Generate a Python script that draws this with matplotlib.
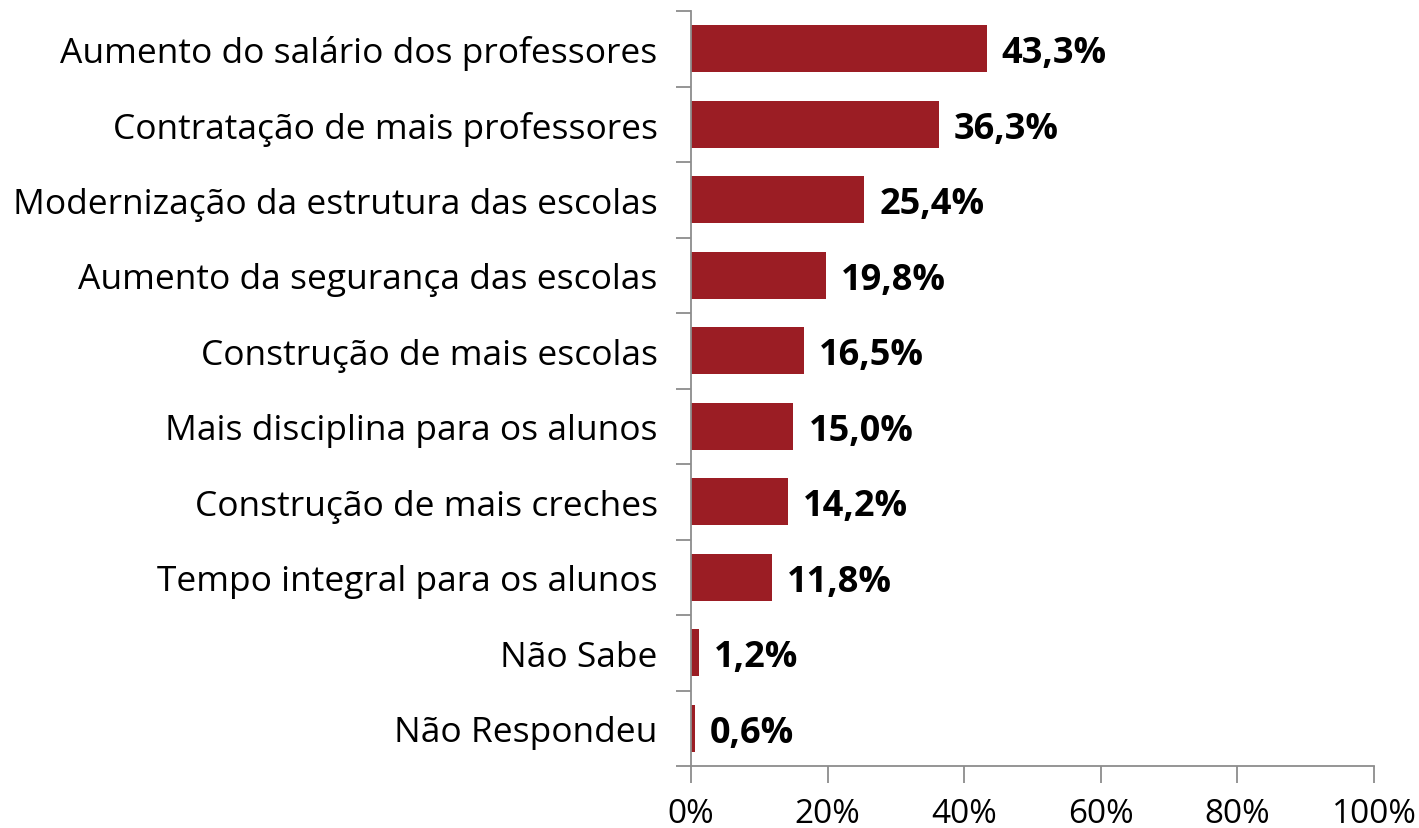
import matplotlib.pyplot as plt
import numpy as np
from matplotlib.ticker import FixedLocator

categorias = ["Aumento do salário dos professores",
              "Contratação de mais professores",
              "Modernização da estrutura das escolas",
              "Aumento da segurança das escolas",
              "Construção de mais escolas",
              "Mais disciplina para os alunos",
              "Construção de mais creches",
              "Tempo integral para os alunos",
              "Não Sabe",
              "Não Respondeu"]
valores = [43.3, 36.3, 25.4, 19.8, 16.5, 15.0, 14.2, 11.8, 1.2, 0.6]
rotulos = ["43,3%", "36,3%", "25,4%", "19,8%", "16,5%",
           "15,0%", "14,2%", "11,8%", "1,2%", "0,6%"]
xticks = [0, 20, 40, 60, 80, 100]

plt.rcParams['font.family'] = ['Open Sans', 'DejaVu Sans']

fig = plt.figure(figsize=(14.19, 8.29), dpi=100)
ax = fig.add_axes([691/1419, 1 - 767/829, (1374-691)/1419, (767-12)/829])

y = np.arange(len(categorias))
ax.barh(y, valores, height=0.62, color="#9b1d24")
for yi, v, r in zip(y, valores, rotulos):
    ax.text(v + 2.2, yi, r, va="center_baseline", ha="left", fontsize=26, fontweight="bold")

ax.set_ylim(len(categorias) - 0.5, -0.5)
ax.set_xlim(0, 100)
ax.set_yticks(y)
ax.set_yticklabels(categorias, fontsize=25.5)
ax.yaxis.set_minor_locator(FixedLocator(np.arange(-0.5, len(categorias), 1)))
ax.tick_params(axis="y", which="major", length=0, pad=24)
ax.tick_params(axis="y", which="minor", length=11, color="#8c8c8c", width=1.3)

ax.set_xticks(xticks)
ax.set_xticklabels([f"{t}%" for t in xticks], fontsize=24)
ax.tick_params(axis="x", length=12, color="#8c8c8c", width=1.3, pad=10)

for s in ["top", "right"]:
    ax.spines[s].set_visible(False)
for s in ["left", "bottom"]:
    ax.spines[s].set_color("#8c8c8c")
    ax.spines[s].set_linewidth(1.3)

fig.savefig("out.png", dpi=100)
